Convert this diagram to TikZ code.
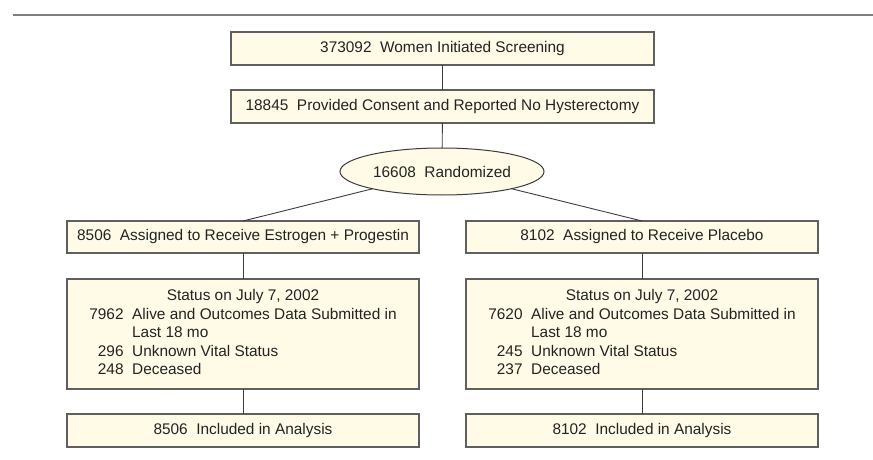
\documentclass[tikz,border=0pt]{standalone}
\usepackage{fontspec}
\setmainfont{Liberation Sans}
\usetikzlibrary{shapes.geometric}
\definecolor{boxfill}{RGB}{255,251,231}
\definecolor{boxline}{RGB}{95,95,95}
\definecolor{connline}{RGB}{60,60,60}
\definecolor{txt}{RGB}{35,35,35}
\newcommand{\gap}{\hspace{0.556em}}
\begin{document}
\begin{tikzpicture}[x=1pt,y=-1pt,
  font=\fontsize{15.4}{18.5}\selectfont,
  box/.style={draw=boxline, line width=1.2pt, fill=boxfill, text=txt,
    inner sep=0pt, outer sep=0pt, minimum height=33pt},
  oval/.style={ellipse, draw=connline, line width=1pt, fill=boxfill, text=txt,
    inner sep=0pt, outer sep=0pt, minimum width=204pt, minimum height=47pt},
  conn/.style={draw=connline, line width=0.9pt},
  rulestyle/.style={draw=boxline!80, line width=1.3pt}]
\useasboundingbox (0,0) rectangle (873,460);
\coordinate (ruleL) at (13,15);
\coordinate (ruleR) at (873,15);
\draw[rulestyle] (ruleL) -- (ruleR);

\node[box, minimum width=423pt] (screen) at (442.5,48.5) {373092\gap Women Initiated Screening};
\node[box, minimum width=423pt] (consent) at (442.5,106.5) {18845\gap Provided Consent and Reported No Hysterectomy};
\node[oval] (rand) at (442,171.5) {16608\gap Randomized};

\node[box, minimum width=352pt, minimum height=32pt] (ep) at (243,237) {8506\gap Assigned to Receive Estrogen + Progestin};
\node[box, minimum width=352pt, minimum height=32pt] (pl) at (642,237) {8102\gap Assigned to Receive Placebo};

\node[box, minimum width=352pt, minimum height=110pt] (st1) at (243,334) {\begin{tabular}{@{}r@{\gap}l@{}}\multicolumn{2}{c}{Status on July 7, 2002}\\ 7962 & Alive and Outcomes Data Submitted in\\ & Last 18 mo\\ 296 & Unknown Vital Status\\ 248 & Deceased\end{tabular}};
\node[box, minimum width=352pt, minimum height=110pt] (st2) at (642,334) {\begin{tabular}{@{}r@{\gap}l@{}}\multicolumn{2}{c}{Status on July 7, 2002}\\ 7620 & Alive and Outcomes Data Submitted in\\ & Last 18 mo\\ 245 & Unknown Vital Status\\ 237 & Deceased\end{tabular}};

\node[box, minimum width=352pt] (inc1) at (243,430.5) {8506\gap Included in Analysis};
\node[box, minimum width=352pt] (inc2) at (642,430.5) {8102\gap Included in Analysis};

\draw[conn] (screen) -- (consent);
\draw[conn] (consent) -- (rand);
\draw[conn] (rand) -- (ep.north);
\draw[conn] (rand) -- (pl.north);
\draw[conn] (ep) -- (st1);
\draw[conn] (pl) -- (st2);
\draw[conn] (st1) -- (inc1);
\draw[conn] (st2) -- (inc2);
\end{tikzpicture}
\end{document}
